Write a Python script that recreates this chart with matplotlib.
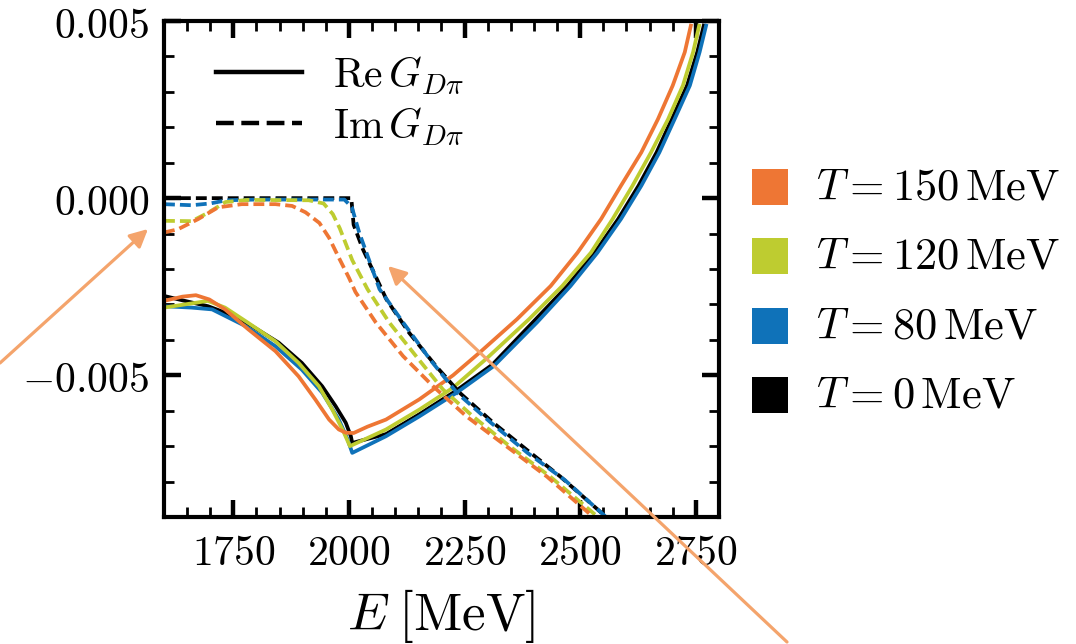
import matplotlib
matplotlib.use('Agg')
import numpy as np
import matplotlib.pyplot as plt
from matplotlib.lines import Line2D
from matplotlib.patches import Rectangle, FancyArrowPatch
from matplotlib.ticker import MultipleLocator

plt.rcParams['mathtext.fontset'] = 'cm'
plt.rcParams['font.family'] = ['DejaVu Serif']

# ---------------- data (G in units of 1e-3) ----------------
temps = ['150', '120', '80', '0']
temp_colors = ['#EE7634', '#BECC30', '#0F72B9', '#000000']

xticks = [1750, 2000, 2250, 2500, 2750]
yticks = [0.005, 0.0, -0.005]
ytick_labels = ['0.005', '0.000', '-0.005']

# Re G, T = 0
re_t0_E = [1600, 1645, 1695, 1732, 1790, 1848, 1898, 1942, 1971, 1993, 2004, 2007,
           2080, 2152, 2230, 2310, 2400, 2472, 2531, 2582, 2626, 2665, 2698, 2731,
           2753, 2768]
re_t0_G = [-2.76, -2.90, -3.05, -3.23, -3.61, -4.08, -4.65, -5.31, -5.87, -6.34, -6.72, -6.91,
           -6.66, -6.10, -5.45, -4.70, -3.47, -2.48, -1.54, -0.59, 0.35, 1.29, 2.23, 3.18,
           4.12, 4.92]
# Re G, T = 80
re_t80_E = [1600, 1660, 1704, 1776, 1841, 1898, 1942, 1978, 1997, 2007, 2080, 2152, 2233,
            2313, 2407, 2479, 2537, 2588, 2632, 2671, 2704, 2737, 2758, 2773]
re_t80_G = [-3.05, -3.09, -3.14, -3.61, -4.18, -4.84, -5.49, -6.25, -6.81, -7.19, -6.72, -6.16, -5.49,
            -4.74, -3.50, -2.48, -1.54, -0.59, 0.35, 1.29, 2.23, 3.18, 4.12, 4.92]
# Re G, T = 120
re_t120_E = [1600, 1645, 1695, 1732, 1782, 1841, 1891, 1935, 1964, 1986, 2002, 2080, 2152,
             2225, 2298, 2389, 2461, 2523, 2570, 2613, 2653, 2690, 2722, 2744, 2758]
re_t120_G = [-3.09, -3.00, -2.90, -3.09, -3.52, -4.04, -4.65, -5.31, -5.97, -6.53, -7.00, -6.53, -5.97,
             -5.35, -4.52, -3.42, -2.48, -1.54, -0.59, 0.35, 1.29, 2.23, 3.18, 4.12, 4.92]
# Re G, T = 150
re_t150_E = [1600, 1640, 1669, 1698, 1732, 1782, 1841, 1891, 1927, 1957, 1978, 1993, 2010, 2040,
             2080, 2152, 2225, 2284, 2363, 2436, 2494, 2545, 2588, 2632, 2668, 2700, 2726, 2740]
re_t150_G = [-2.90, -2.78, -2.74, -2.86, -3.14, -3.70, -4.32, -5.03, -5.68, -6.25, -6.53, -6.62, -6.63, -6.45,
             -6.25, -5.68, -5.00, -4.34, -3.42, -2.48, -1.54, -0.59, 0.35, 1.29, 2.23, 3.18, 4.12, 4.92]

# Im G, T = 0
im_t0_E = [1600, 2005, 2010, 2030, 2081, 2130, 2188, 2239, 2312, 2384, 2457, 2543, 2560]
im_t0_G = [0.0, 0.0, -0.75, -1.44, -2.86, -3.80, -4.74, -5.49, -6.34, -7.10, -7.86, -8.85, -9.05]
# Im G, T = 80
im_t80_E = [1600, 1660, 1700, 1735, 1800, 1990, 2006, 2022, 2066, 2117, 2175, 2233, 2307,
            2386, 2466, 2543, 2560]
im_t80_G = [-0.17, -0.20, -0.15, -0.06, -0.04, -0.04, -0.25, -0.97, -2.57, -3.51, -4.55, -5.49, -6.34,
            -7.19, -7.95, -8.85, -9.05]
# Im G, T = 120
im_t120_E = [1600, 1660, 1697, 1733, 1780, 1913, 1945, 1965, 1980, 1995, 2007, 2040, 2087,
             2145, 2203, 2268, 2348, 2435, 2522, 2540]
im_t120_G = [-0.64, -0.65, -0.40, -0.11, -0.05, -0.06, -0.15, -0.45, -0.85, -1.35, -1.75, -2.57, -3.51,
             -4.46, -5.40, -6.16, -7.01, -7.86, -8.82, -9.02]
# Im G, T = 150
im_t150_E = [1600, 1630, 1674, 1717, 1768, 1841, 1877, 1906, 1936, 1957, 1978, 2000, 2014, 2058,
             2117, 2181, 2254, 2341, 2428, 2515, 2532]
im_t150_G = [-0.97, -0.88, -0.59, -0.26, -0.17, -0.17, -0.22, -0.40, -0.70, -1.12, -1.68, -2.25, -2.65, -3.51,
             -4.46, -5.30, -6.16, -7.01, -7.86, -8.85, -9.05]

# ---------------- figure ----------------
W, H = 1076, 644
fig = plt.figure(figsize=(W / 100, H / 100), dpi=100)
ax = fig.add_axes([164 / W, 1 - 517 / H, (719 - 164) / W, (517 - 21) / H])

scale = 1e-3
lw = 2.7
dash = (2.9, 1.35)
col = dict(zip(temps, temp_colors))

re_curves = [(re_t0_E, re_t0_G, col['0']), (re_t80_E, re_t80_G, col['80']),
             (re_t120_E, re_t120_G, col['120']), (re_t150_E, re_t150_G, col['150'])]
im_curves = [(im_t0_E, im_t0_G, col['0']), (im_t80_E, im_t80_G, col['80']),
             (im_t120_E, im_t120_G, col['120']), (im_t150_E, im_t150_G, col['150'])]

for E, G, c in re_curves:
    ax.plot(E, np.asarray(G) * scale, color=c, lw=lw, solid_joinstyle='round',
            solid_capstyle='butt')
for E, G, c in im_curves:
    ax.plot(E, np.asarray(G) * scale, color=c, lw=lw, dashes=dash,
            dash_capstyle='butt', dash_joinstyle='round')

ax.set_xlim(1600, 2800)
ax.set_ylim(-0.009, 0.005)
ax.set_xticks(xticks, labels=[f'${t}$' for t in xticks])
ax.set_yticks(yticks, labels=[f'${t}$' for t in ytick_labels])
ax.xaxis.set_minor_locator(MultipleLocator(50))
ax.yaxis.set_minor_locator(MultipleLocator(0.001))
ax.tick_params(which='both', direction='in', top=True, right=True, labelsize=30)
ax.tick_params(which='major', length=12, width=3.2, pad=11)
ax.tick_params(which='minor', length=7, width=2.0)
for s in ax.spines.values():
    s.set_linewidth(3.0)

ax.set_xlabel(r'$E\;[\mathrm{MeV}]$', fontsize=38, labelpad=9)

# inner legend (line styles)
handles = [Line2D([], [], color='k', lw=3.2),
           Line2D([], [], color='k', lw=3.2, dashes=(4.0, 1.7))]
ax.legend(handles, [r'$\mathrm{Re}\,G_{D\pi}$', r'$\mathrm{Im}\,G_{D\pi}$'],
          loc='upper left', bbox_to_anchor=(216 / W, 1 - 54 / H),
          bbox_transform=fig.transFigure, frameon=False, fontsize=30,
          handlelength=2.06, handletextpad=0.75, borderpad=0, borderaxespad=0,
          labelspacing=0.2)

# outer legend (temperatures)
row_centers = [186.5, 256, 326, 395]
for t, c, yc in zip(temps, temp_colors, row_centers):
    fig.add_artist(Rectangle((752 / W, 1 - (yc + 18) / H), 36 / W, 36 / H,
                             transform=fig.transFigure, facecolor=c, edgecolor='none'))
    fig.text(816 / W, 1 - yc / H, rf'$T = {t}\,\mathrm{{MeV}}$', ha='left', va='center',
             fontsize=32)

# annotation arrows
acol = '#F4A46C'
for tail, tip in [((0, 363), (148, 229)), ((787, 642), (388, 266))]:
    fig.add_artist(FancyArrowPatch(posA=(tail[0] / W, 1 - tail[1] / H),
                                   posB=(tip[0] / W, 1 - tip[1] / H),
                                   transform=fig.transFigure, arrowstyle='-|>',
                                   mutation_scale=27, color=acol, lw=2.3,
                                   shrinkA=0, shrinkB=0))

fig.savefig('out.png', dpi=100)
